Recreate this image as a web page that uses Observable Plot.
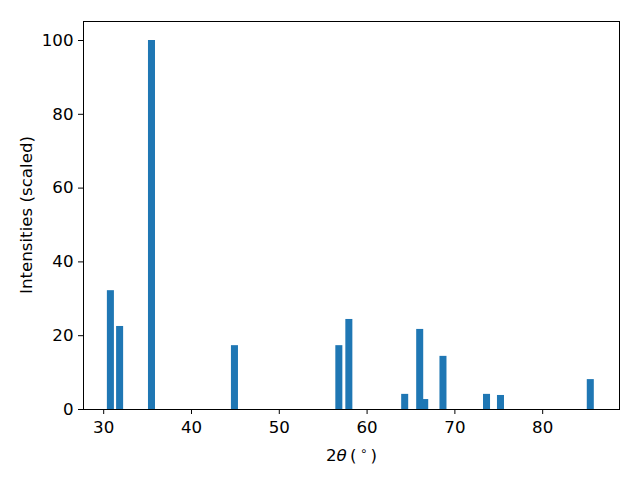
<!DOCTYPE html>
<html>
<head>
<meta charset="utf-8">
<script src="https://cdn.jsdelivr.net/npm/d3@7"></script>
<script src="https://cdn.jsdelivr.net/npm/@observablehq/plot@0.6"></script>
<style>
  html, body { margin: 0; padding: 0; background: #fff; }
  #chart svg { display: block; }
</style>
</head>
<body>
<div id="chart"></div>
<script>
const twoTheta = [30.82, 31.87, 35.5, 44.95, 56.84, 57.98, 64.34, 66.05, 66.62, 68.7, 73.66, 75.25, 85.48];
const intensities = [32.2, 22.5, 100, 17.3, 17.3, 24.4, 4.1, 21.7, 2.7, 14.4, 4.1, 3.8, 8.1];
const barWidth = 0.8;
const xTicks = [30, 40, 50, 60, 70, 80];
const yTicks = [0, 20, 40, 60, 80, 100];

const data = twoTheta.map((t, i) => ({x1: t - barWidth / 2, x2: t + barWidth / 2, y: intensities[i]}));

const FS = "16.67px";

const plot = Plot.plot({
  width: 640,
  height: 480,
  marginLeft: 83,
  marginRight: 21,
  marginTop: 21,
  marginBottom: 71,
  style: {fontFamily: "DejaVu Sans", fontSize: FS, color: "#000", background: "#fff"},
  x: {domain: [27.7, 88.75], label: null},
  y: {domain: [0, 105.15], label: null},
  marks: [
    Plot.rectY(data, {x1: "x1", x2: "x2", y1: 0, y2: "y", fill: "#1f77b4"}),
    Plot.frame({stroke: "#000", strokeWidth: 1}),
    Plot.axisX({ticks: xTicks, tickSize: 5, tickPadding: 7, label: null}),
    Plot.axisY({ticks: yTicks, tickSize: 5, tickPadding: 5, label: null})
  ]
});
document.getElementById("chart").appendChild(plot);

const svg = d3.select(plot);
svg.selectAll("text").style("font-size", FS).style("font-family", "DejaVu Sans").attr("fill", "#000");

const xl = svg.append("text")
  .attr("x", 351.5).attr("y", 461)
  .attr("text-anchor", "middle")
  .style("font-family", "DejaVu Sans").style("font-size", FS).attr("fill", "#000");
xl.append("tspan").text("2");
xl.append("tspan").style("font-style", "italic").text("θ");
xl.append("tspan").text("\u2009(\u2009");
xl.append("tspan").style("font-size", "11.7px").attr("dy", -6).text("∘");
xl.append("tspan").attr("dy", 6).text("\u2009)");

svg.append("text")
  .attr("transform", "translate(32,215) rotate(-90)")
  .attr("text-anchor", "middle")
  .style("font-family", "DejaVu Sans").style("font-size", FS).attr("fill", "#000")
  .text("Intensities (scaled)");
</script>
</body>
</html>
